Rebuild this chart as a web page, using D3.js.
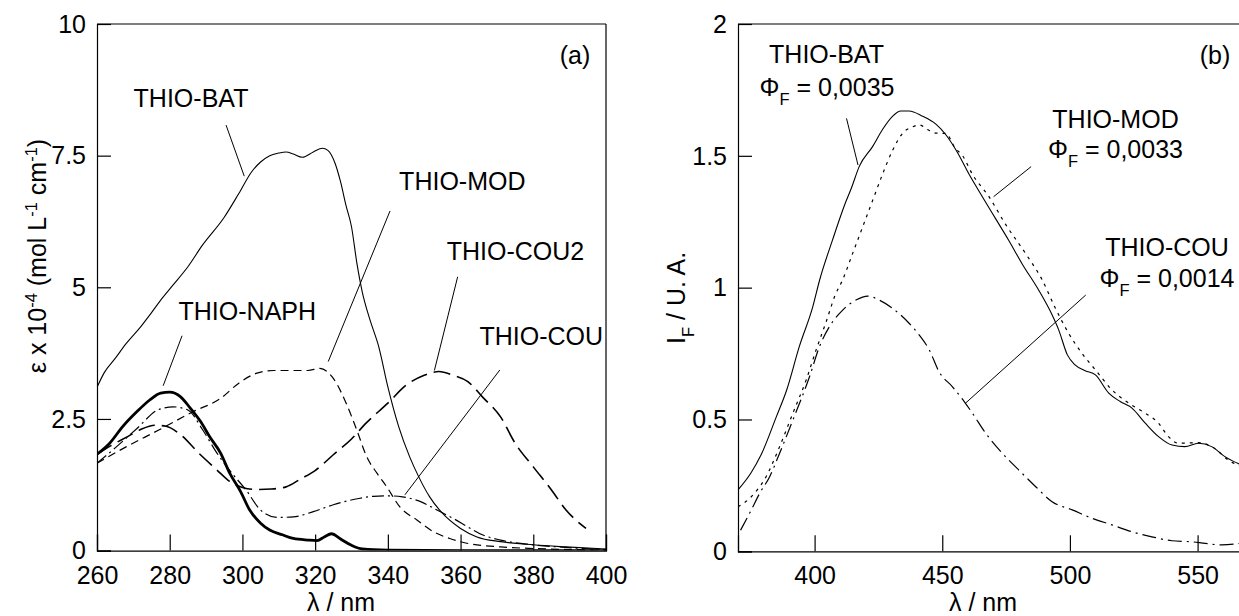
<!DOCTYPE html>
<html>
<head>
<meta charset="utf-8">
<script src="https://cdn.jsdelivr.net/npm/d3@7"></script>
<style>
  html, body { margin: 0; padding: 0; background: #fff; }
  svg { display: block; }
  text { font-family: "Liberation Sans", Arial, sans-serif; fill: #000; }
</style>
</head>
<body>
<svg id="chart" width="1239" height="616"></svg>
<script>
// ---------------- Panel (a): absorption ----------------
const batA_x = [260,262,265,268,272,275,278,281,285,289,295,299,302.5,305,307.5,310,312,314,316.5,319.5,322,323.5,325.5,327,328.5,330,331.5,333,335,337.5,340,343,346,348.5,351.5,355,360,364.5,371,380,389,400];
const batA_y = [3.1,3.38,3.65,3.93,4.25,4.52,4.8,5.05,5.39,5.8,6.33,6.78,7.19,7.38,7.5,7.55,7.57,7.53,7.47,7.57,7.64,7.6,7.35,7.0,6.55,6.15,5.45,4.9,4.4,3.87,3.11,2.35,1.78,1.4,1.02,0.71,0.42,0.26,0.17,0.11,0.07,0.03];

const naphA_x = [260,263.5,267,271,274.5,277.5,280,283,285.5,288.5,291,294,296.5,299.5,302,305,307.5,311,314,318,320.5,322.5,324.5,327,330,333,340,360,400];
const naphA_y = [1.83,2.04,2.35,2.64,2.86,2.99,3.01,2.92,2.72,2.45,2.16,1.85,1.47,1.12,0.77,0.52,0.39,0.30,0.23,0.20,0.19,0.26,0.32,0.22,0.1,0.03,0.01,0,0];

const modA_x = [260,268,277,286.5,294,299,304,308.5,314,318,321.3,325,328.7,331.4,334.2,337,339.7,343.3,348,352.5,357,361.7,371,380,390,400];
const modA_y = [1.66,1.97,2.29,2.64,2.89,3.18,3.37,3.42,3.42,3.42,3.46,3.27,2.77,2.3,1.78,1.47,1.21,0.83,0.58,0.36,0.23,0.14,0.07,0.04,0.02,0.01];

const cou2A_x = [260,264,268,272,276,279,283,288,293,296,300,304,308,312,316,320,325,330,334,340,345,350,354,358,362,366,371,375,380,385,389,394.5];
const cou2A_y = [1.83,2.0,2.15,2.3,2.38,2.36,2.2,1.85,1.53,1.34,1.2,1.16,1.17,1.21,1.36,1.52,1.82,2.12,2.42,2.8,3.14,3.33,3.40,3.33,3.21,2.92,2.54,2.04,1.59,1.15,0.77,0.42];

const couA_x = [260,265,271,277,281,285,289,293,297,301,305,309.5,314,319.5,325,332,336,340,344,349,353.5,358,362,366,371,380,389,400];
const couA_y = [1.66,1.95,2.32,2.68,2.73,2.67,2.3,1.85,1.48,1.15,0.77,0.63,0.64,0.74,0.87,0.99,1.03,1.04,1.02,0.93,0.77,0.61,0.45,0.30,0.20,0.11,0.06,0.02];

const xTicksA = [260,280,300,320,340,360,380,400];
const yTicksA = [0,2.5,5,7.5,10];
const yTickLabelsA = ["0","2.5","5","7.5","10"];

// ---------------- Panel (b): fluorescence ----------------
const batB_x = [370,375,379,385,389,394,399.3,402,407,412,414.5,417.5,422.7,426.6,430.5,433.8,437,442.3,447.5,451.4,455.5,460.5,465.7,471,476,481.3,487.8,493,495.6,499,502,506,510,515.2,519.7,524.3,529.5,534.7,540,545,550.3,555.5,560.7,566.5];
const batB_y = [0.233,0.296,0.365,0.51,0.61,0.776,0.928,1.03,1.18,1.32,1.38,1.46,1.535,1.6,1.65,1.67,1.67,1.65,1.62,1.58,1.52,1.43,1.345,1.26,1.18,1.09,0.99,0.897,0.84,0.745,0.707,0.685,0.669,0.60,0.568,0.543,0.486,0.435,0.403,0.397,0.41,0.397,0.359,0.33];

const modB_x = [370,375.2,381,386.3,391.5,396.7,400.6,404.5,408,411,414.9,418.8,422.7,426.6,430.5,434.5,438.4,441,444.2,447.5,451.4,455,458,461.8,468.3,474.8,482.6,489.1,494.4,499.5,504.7,510,516.5,523,529.5,534.7,538.6,542.5,550.3,556.8,562,566.5];
const modB_y = [0.169,0.207,0.283,0.397,0.524,0.65,0.764,0.87,0.97,1.03,1.13,1.23,1.33,1.43,1.52,1.586,1.61,1.617,1.60,1.586,1.585,1.53,1.50,1.43,1.345,1.24,1.13,1.03,0.92,0.827,0.751,0.688,0.612,0.562,0.524,0.486,0.435,0.41,0.412,0.39,0.346,0.325];

const couB_x = [371,375.2,378.5,382.4,386.3,391.5,398,401.9,405.8,411,416.2,420.8,425.3,430.5,437,441,444.9,448.8,454,458.6,461.8,467,473.5,480,486.6,493,500.9,508.7,516.5,524.3,532.1,539.9,547.7,553,559.5,566.5];
const couB_y = [0.08,0.157,0.22,0.283,0.372,0.498,0.662,0.776,0.852,0.915,0.953,0.968,0.953,0.922,0.865,0.82,0.764,0.68,0.624,0.568,0.524,0.448,0.372,0.308,0.245,0.188,0.157,0.125,0.10,0.074,0.055,0.04,0.036,0.03,0.024,0.03];

const xTicksB = [400,450,500,550];
const yTicksB = [0,0.5,1,1.5,2];
const yTickLabelsB = ["0","0.5","1","1.5","2"];

// leader lines in data coordinates [x1,y1,x2,y2]
const leadersA = [[295.5,8.08,300.5,7.11],[283.4,4.08,278.2,3.13],[340.6,6.45,323.6,3.59],[359.2,5.2,352.8,3.42],[370.8,3.43,344.7,1.06]];
const leadersB = [[412.5,1.642,417.0,1.465],[484.8,1.459,470.1,1.345],[506.2,0.972,459.0,0.561]];

// ---------------- drawing ----------------
const svg = d3.select("#chart");
const FS = 25;
const SFS = 16.5;

function zip(xs, ys){ return xs.map((x,i)=>[x, ys[i]]); }

function panel(opts){
  const g = svg.append("g");
  const x = d3.scaleLinear().domain(opts.xd).range([opts.left, opts.right]);
  const y = d3.scaleLinear().domain(opts.yd).range([opts.bottom, opts.top]);

  g.append("line").attr("x1",opts.left).attr("x2",opts.right).attr("y1",opts.top).attr("y2",opts.top).attr("stroke","#000").attr("stroke-width",1.2);
  if (opts.rightBorder) g.append("line").attr("x1",opts.right).attr("x2",opts.right).attr("y1",opts.top).attr("y2",opts.bottom).attr("stroke","#000").attr("stroke-width",1.2);

  const xAxis = d3.axisBottom(x).tickValues(opts.xt).tickSize(-16).tickFormat(d3.format("d"));
  const gx = g.append("g").attr("transform",`translate(0,${opts.bottom})`).call(xAxis);
  const yAxis = d3.axisLeft(y).tickValues(opts.yt).tickSize(-14).tickFormat((d,i)=>opts.ytl[i]);
  const gy = g.append("g").attr("transform",`translate(${opts.left},0)`).call(yAxis);
  [gx, gy].forEach(a=>{
    a.select(".domain").attr("stroke","#000").attr("stroke-width",1.2);
    a.selectAll(".tick line").attr("stroke","#000").attr("stroke-width",1.2);
    a.selectAll("text").style("font-size", FS+"px").attr("font-family",'"Liberation Sans", Arial, sans-serif').attr("fill","#000");
  });
  gx.selectAll(".tick text").attr("dy","0").attr("y", 33);
  gy.selectAll(".tick text").attr("x", -11).attr("dy","0.33em");

  const clipId = "clip"+opts.id;
  svg.append("clipPath").attr("id",clipId).append("rect")
    .attr("x",opts.left).attr("y",opts.top-2).attr("width",opts.right-opts.left).attr("height",opts.bottom-opts.top+2);
  const lines = g.append("g").attr("clip-path",`url(#${clipId})`);
  const lineGen = d3.line().x(d=>x(d[0])).y(d=>y(d[1])).curve(d3.curveMonotoneX);
  opts.series.forEach(s=>{
    lines.append("path").datum(zip(s.x, s.y))
      .attr("d", lineGen).attr("fill","none").attr("stroke","#000")
      .attr("stroke-width", s.w).attr("stroke-dasharray", s.dash || null)
      .attr("stroke-linejoin","round");
  });
  opts.leaders.forEach(l=>{
    g.append("line").attr("x1",x(l[0])).attr("y1",y(l[1])).attr("x2",x(l[2])).attr("y2",y(l[3]))
      .attr("stroke","#000").attr("stroke-width",1);
  });
  return {g, x, y};
}

panel({
  id:"a", left:97, right:606, top:24, bottom:550.6,
  xd:[260,400], yd:[0,10], xt:xTicksA, yt:yTicksA, ytl:yTickLabelsA, rightBorder:true,
  series:[
    {x:batA_x, y:batA_y, w:1.1},
    {x:naphA_x, y:naphA_y, w:2.8},
    {x:modA_x, y:modA_y, w:1.2, dash:"8,5"},
    {x:cou2A_x, y:cou2A_y, w:1.6, dash:"17,7"},
    {x:couA_x, y:couA_y, w:1.2, dash:"12,4,2,4"}
  ],
  leaders: leadersA
});

panel({
  id:"b", left:738, right:1240, top:24, bottom:551.3,
  xd:[370, 370 + 502/2.5533], yd:[0,2], xt:xTicksB, yt:yTicksB, ytl:yTickLabelsB, rightBorder:false,
  series:[
    {x:batB_x, y:batB_y, w:1.1},
    {x:modB_x, y:modB_y, w:1.2, dash:"3,5"},
    {x:couB_x, y:couB_y, w:1.2, dash:"14,5,2,5"}
  ],
  leaders: leadersB
});

function txt(x, y, s, anchor){
  return svg.append("text").attr("x",x).attr("y",y).attr("text-anchor",anchor||"middle").style("font-size",FS+"px").text(s);
}

// panel (a) annotations
txt(191,107,"THIO-BAT");
txt(247.3,320,"THIO-NAPH");
txt(462.3,190,"THIO-MOD");
txt(515.5,260,"THIO-COU2");
txt(541.3,345,"THIO-COU");
txt(575,64,"(a)");
txt(1215,64,"(b)");

// panel (b) annotations
function phi(cx, y, val){
  const t = svg.append("text").attr("x",cx).attr("y",y).attr("text-anchor","middle").style("font-size",FS+"px");
  t.append("tspan").text("Φ");
  t.append("tspan").attr("dy",9).style("font-size",SFS+"px").text("F");
  t.append("tspan").attr("dy",-9).text(" = " + val);
}
txt(826.5,63.3,"THIO-BAT");  phi(827,96,"0,0035");
txt(1115.5,128,"THIO-MOD"); phi(1115.5,158,"0,0033");
txt(1167,256,"THIO-COU");  phi(1167,286.5,"0,0014");

// axis titles
txt(341,611,"λ / nm");
txt(983,611,"λ / nm");

// y title (a)
{
  const t = svg.append("text").attr("transform","translate(46,256) rotate(-90)").attr("text-anchor","middle").style("font-size",FS+"px");
  t.append("tspan").text("ε x 10");
  t.append("tspan").attr("dy",-9).style("font-size",SFS+"px").text("-4");
  t.append("tspan").attr("dy",9).text(" (mol L");
  t.append("tspan").attr("dy",-9).style("font-size",SFS+"px").text("-1");
  t.append("tspan").attr("dy",9).text(" cm");
  t.append("tspan").attr("dy",-9).style("font-size",SFS+"px").text("-1");
  t.append("tspan").attr("dy",9).text(")");
}
// y title (b)
{
  const t = svg.append("text").attr("transform","translate(685,344) rotate(-90)").attr("text-anchor","start").style("font-size",FS+"px");
  t.append("tspan").text("I");
  t.append("tspan").attr("dy",9).style("font-size",SFS+"px").text("F");
  t.append("tspan").attr("dy",-9).text(" / U. A.");
}
</script>
</body>
</html>
